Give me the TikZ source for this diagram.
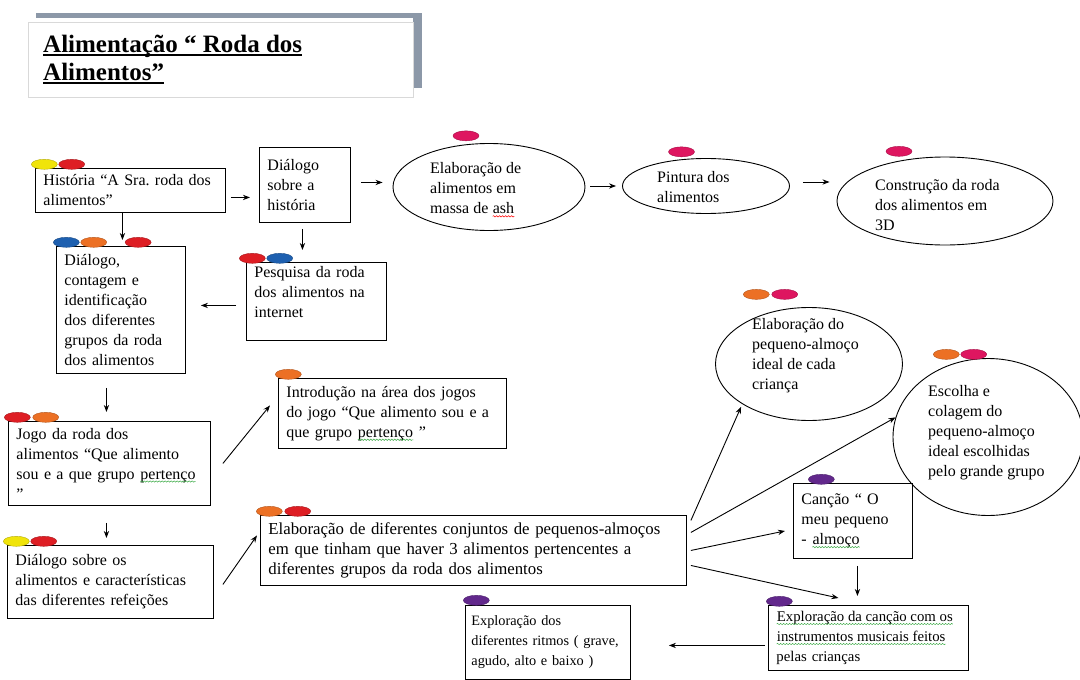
\documentclass[tikz,border=0pt]{standalone}
\usepackage{fontspec}
\setmainfont{Liberation Serif}
\usetikzlibrary{positioning,shapes.geometric,arrows.meta,decorations.pathmorphing}
\definecolor{pipyellow}{RGB}{240,228,10}
\definecolor{pipred}{RGB}{222,30,36}
\definecolor{piporange}{RGB}{236,112,36}
\definecolor{pipblue}{RGB}{30,96,176}
\definecolor{pippink}{RGB}{222,22,96}
\definecolor{pippurple}{RGB}{98,40,140}
\definecolor{framegrey}{RGB}{140,152,168}
\definecolor{spellgreen}{RGB}{60,170,70}
\frenchspacing
\newcommand{\spellmark}[2]{\tikz[baseline=(sw.base)]{\node[inner sep=0pt,text width={},minimum width=0pt,minimum height=0pt,draw=none,anchor=base] (sw) {#2};\draw[#1,line width=0.5pt,decorate,decoration={snake,amplitude=0.7pt,segment length=3pt}] ([yshift=-2.5pt]sw.base west) -- ([yshift=-2.5pt]sw.base east);}}
\begin{document}
\begin{tikzpicture}[x=1pt,y=-1pt,>=Stealth,font=\fontsize{16}{20}\selectfont,
    box/.style={draw,line width=0.9pt,rectangle,anchor=north west,align=left,inner xsep=8pt,inner ysep=2pt},
    oval/.style={draw,line width=0.9pt,ellipse,inner sep=0pt},
    ovaltext/.style={align=left,inner sep=0pt,anchor=west},
    titletext/.style={anchor=base west,inner sep=0pt,font=\fontsize{25}{28}\selectfont\bfseries},
    pip/.style={ellipse,fill=#1,draw=#1!75!black,line width=0.4pt,minimum width=26pt,minimum height=10pt,inner sep=0pt},
    arr/.style={->,line width=0.9pt}]

    \useasboundingbox (0,0) rectangle (1080,680);

    \fill[framegrey] (36,13) rectangle (422,18);
    \fill[framegrey] (413,13) rectangle (422,88);
    \draw[black!15,fill=white] (28,22) rectangle (413,97);
    \node[titletext] (title1) at (43,52) {Alimentação “ Roda dos};
    \node[titletext] (title2) at (43,80) {Alimentos”};
    \draw[line width=1.6pt] ([yshift=-3pt]title1.base west) -- ([yshift=-3pt]title1.base east);
    \draw[line width=1.6pt] ([yshift=-3pt]title2.base west) -- ([yshift=-3pt]title2.base east);

    \node[box,text width=174pt,minimum height=44pt] (hist) at (35,168) {História “A Sra. roda dos\\alimentos”};
    \node[box,text width=75pt,minimum height=75pt] (dial) at (259,147) {Diálogo\\sobre a\\história};
    \node[oval,minimum width=192pt,minimum height=87pt] (elab) at (489,187) {};
    \node[ovaltext] (elabtext) at ([xshift=-59pt,yshift=-3pt]elab.center) {Elaboração de\\alimentos em\\massa de \spellmark{red}{ash}};
    \node[oval,minimum width=167pt,minimum height=55pt] (pint) at (706,186) {};
    \node[ovaltext] (pinttext) at ([xshift=-49pt,yshift=-1pt]pint.center) {Pintura dos\\alimentos};
    \node[oval,minimum width=216pt,minimum height=88pt] (cons) at (945,201) {};
    \node[ovaltext] (constext) at ([xshift=-70pt,yshift=-4pt]cons.center) {Construção da roda\\dos alimentos em\\3D};

    \node[box,text width=113pt,minimum height=127pt] (cont) at (56,246) {Diálogo,\\contagem e\\identificação\\dos diferentes\\grupos da roda\\dos alimentos};
    \node[box,text width=124pt,minimum height=78pt] (pesq) at (246,262) {Pesquisa da roda\\dos alimentos na\\internet\\\mbox{}};

    \node[box,text width=186pt,minimum height=84pt] (jogo) at (8,421) {Jogo da roda dos\\alimentos “Que alimento\\sou e a que grupo \spellmark{spellgreen}{pertenço}\\”};
    \node[box,text width=212pt,minimum height=70pt] (intro) at (278,378) {Introdução na área dos jogos\\do jogo “Que alimento sou e a\\que grupo \spellmark{spellgreen}{pertenço} ”};
    \node[box,text width=190pt,minimum height=73pt] (dsa) at (7,545) {Diálogo sobre os\\alimentos e características\\das diferentes refeições};
    \node[box,text width=410pt,minimum height=70pt,font=\fontsize{16.8}{20}\selectfont] (conj) at (260,515) {Elaboração de diferentes conjuntos de pequenos-almoços\\em que tinham que haver 3 alimentos pertencentes a\\diferentes grupos da roda dos alimentos};

    \node[oval,minimum width=187pt,minimum height=113pt] (pal) at (809,364) {};
    \node[ovaltext] (paltext) at ([xshift=-57pt,yshift=8pt]pal.center) {Elaboração do\\pequeno-almoço\\ideal de cada\\criança};
    \node[oval,minimum width=190pt,minimum height=157pt] (esc) at (988,437) {};
    \node[ovaltext] (esctext) at ([xshift=-60pt,yshift=4pt]esc.center) {Escolha e\\colagem do\\pequeno-almoço\\ideal escolhidas\\pelo grande grupo};
    \node[box,text width=103pt,minimum height=75pt] (canc) at (793,483) {Canção “ O\\meu pequeno\\- \spellmark{spellgreen}{almoço}};
    \node[box,text width=184pt,minimum height=65pt,font=\fontsize{14.8}{20}\selectfont] (expc) at (768,605) {\spellmark{spellgreen}{Exploração da canção com os}\\\spellmark{spellgreen}{instrumentos musicais feitos}\\pelas crianças};
    \node[box,text width=153pt,minimum height=74pt,inner xsep=6pt,font=\fontsize{14.3}{20}\selectfont] (ritm) at (465,605) {Exploração dos\\diferentes ritmos ( grave,\\agudo, alto e baixo )};

    \node[pip=pipyellow,anchor=south west] (hist1) at (hist.north west) {};
    \node[pip=pipred,right=1pt of hist1] (hist2) {};
    \node[pip=pipblue,anchor=south west] (cont1) at ([xshift=1pt]cont.north west) {};
    \node[pip=piporange,right=1pt of cont1] (cont2) {};
    \node[pip=pipred,right=18pt of cont2] (cont3) {};
    \node[pip=pipred,anchor=south west] (pesq1) at ([xshift=-3pt]pesq.north west) {};
    \node[pip=pipblue,right=1pt of pesq1] (pesq2) {};
    \node[pip=pippink,anchor=south] (elab1) at ([xshift=-23pt,yshift=2pt]elab.north) {};
    \node[pip=pippink,anchor=south] (pint1) at ([xshift=-24.5pt,yshift=1pt]pint.north) {};
    \node[pip=pippink,anchor=south] (cons1) at ([xshift=-46pt]cons.north) {};
    \node[pip=pipred,anchor=south west] (jogo1) at (jogo.north west) {};
    \node[pip=piporange,right=2pt of jogo1] (jogo2) {};
    \node[pip=piporange,anchor=south west] (intro1) at ([xshift=1pt]intro.north west) {};
    \node[pip=pipyellow,anchor=south west] (dsa1) at (dsa.north west) {};
    \node[pip=pipred,right=1pt of dsa1] (dsa2) {};
    \node[pip=piporange,anchor=south west] (conj1) at (conj.north west) {};
    \node[pip=pipred,right=2pt of conj1] (conj2) {};
    \node[pip=piporange,anchor=south west] (pal1) at ([xshift=-62pt,yshift=9pt]pal.north) {};
    \node[pip=pippink,right=2pt of pal1] (pal2) {};
    \node[pip=piporange,anchor=south west] (esc1) at ([xshift=-51pt]esc.north) {};
    \node[pip=pippink,right=1pt of esc1] (esc2) {};
    \node[pip=pippurple,anchor=south west] (canc1) at ([xshift=19pt]canc.north west) {};
    \node[pip=pippurple,anchor=south west] (expc1) at ([xshift=2pt]expc.north west) {};
    \node[pip=pippurple,anchor=south west] (ritm1) at ([xshift=2pt,yshift=1pt]ritm.north west) {};

    \draw[arr,shorten <=5pt,shorten >=9pt] ([yshift=-7pt]hist.east) -- ([yshift=-7pt]hist.east -| dial.west);
    \draw[arr,shorten <=10pt,shorten >=10pt] ([yshift=2.5pt]dial.east) -- ([yshift=2.5pt]dial.east -| elab.west);
    \draw[arr,shorten <=5pt,shorten >=6pt] ([yshift=1pt]elab.east) -- ([yshift=1pt]elab.east -| pint.west);
    \draw[arr,shorten <=13pt,shorten >=7pt] ([yshift=4pt]pint.east) -- ([yshift=4pt]pint.east -| cons.west);
    \draw[arr,shorten >=6pt] ([xshift=-8pt]hist.south) -- ([xshift=-8pt]hist.south |- cont.north);
    \draw[arr,shorten <=6pt,shorten >=12pt] ([xshift=-2.5pt]dial.south) -- ([xshift=-2.5pt]dial.south |- pesq.north);
    \draw[arr,shorten <=10pt,shorten >=15pt] ([yshift=-4pt]pesq.west) -- ([yshift=-4pt]pesq.west -| cont.east);
    \draw[arr,shorten <=14pt,shorten >=9pt] ([xshift=-14.5pt]cont.south) -- ([xshift=-14.5pt]cont.south |- jogo.north);
    \draw[arr] ([xshift=12pt]jogo.east) -- ([xshift=-8pt,yshift=8pt]intro.west);
    \draw[arr,shorten <=17pt,shorten >=7pt] ([xshift=-3pt]jogo.south) -- ([xshift=-3pt]jogo.south |- dsa.north);
    \draw[arr] ([xshift=9pt,yshift=-2.5pt]dsa.east) -- ([xshift=-3pt,yshift=15pt]conj.west);
    \draw[arr,shorten >=3pt] ([xshift=4pt,yshift=30pt]conj.east) -- (pal.211);
    \draw[arr] ([xshift=4pt,yshift=18pt]conj.east) -- (esc.168);
    \draw[arr] ([xshift=4pt]conj.east) -- ([xshift=-8pt,yshift=-10pt]canc.west);
    \draw[arr] ([xshift=4pt,yshift=-15pt]conj.east) -- ([xshift=-30pt,yshift=7pt]expc.north);
    \draw[arr,shorten <=7pt,shorten >=9pt] ([xshift=4.5pt]canc.south) -- ([xshift=4.5pt]canc.south |- expc.north);
    \draw[arr,shorten <=3pt,shorten >=38pt] ([yshift=-7.5pt]expc.west) -- ([yshift=-7.5pt]expc.west -| ritm.east);

\end{tikzpicture}
\end{document}
